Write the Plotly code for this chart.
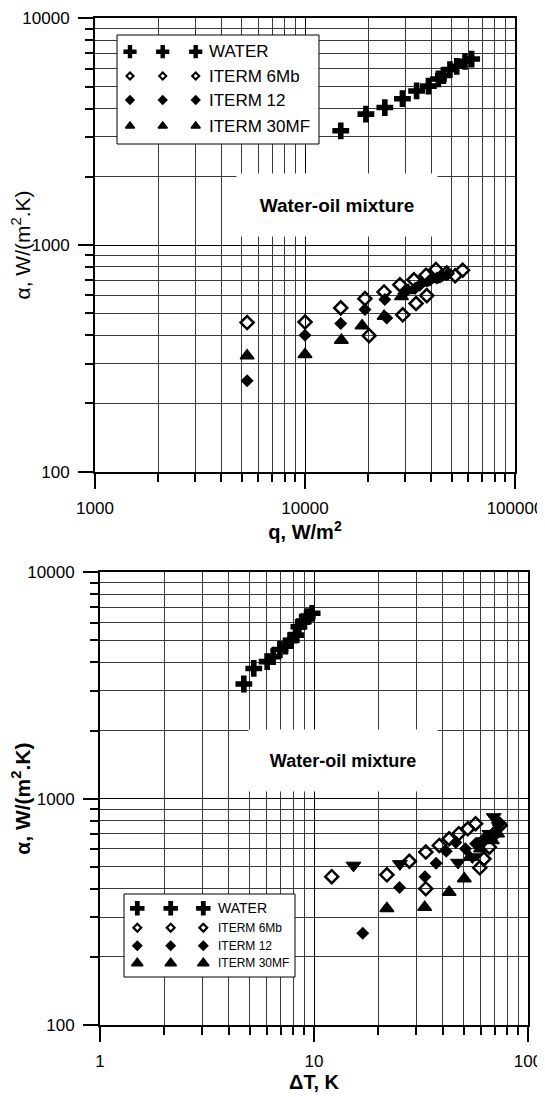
import plotly.graph_objects as go

W, H = 545, 1097
OFF = 8  # page body margin shifts the figure by 8px, compensate for it

# ---- top chart: alpha vs heat flux q ----
q_water = [14800, 19500, 24000, 29100, 34000, 38700, 43200, 45600, 49000, 52800, 57800, 62200]
a_water_top = [3190, 3780, 4040, 4420, 4780, 5020, 5400, 5590, 5940, 6140, 6460, 6610]
q_6mb = [5300, 10000, 14800, 19300, 20200, 23800, 28300, 29200, 33000, 33800, 37700, 38000, 42000, 47300, 51900, 56300]
a_6mb_top = [455, 457, 528, 580, 398, 621, 668, 492, 702, 552, 736, 598, 780, 752, 732, 774]
q_12 = [5300, 10000, 14800, 19300, 24000, 24500, 29500, 33500, 35200, 39400, 42500, 44900, 48000]
a_12_top = [252, 400, 450, 519, 575, 476, 610, 645, 665, 700, 715, 730, 745]
q_30 = [5300, 10000, 14900, 18700, 23800, 28800, 31000, 36000, 41000]
a_30_top = [325, 329, 380, 440, 485, 592, 630, 680, 705]

# ---- bottom chart: alpha vs temperature difference dT ----
dt_water = [4.70, 5.23, 6.04, 6.44, 6.93, 7.36, 7.83, 8.20, 8.50, 8.91, 9.30, 9.80]
a_water_bot = [3210, 3760, 4030, 4240, 4560, 4720, 5010, 5280, 5750, 6050, 6370, 6590]
dt_6mb = [12.1, 21.9, 27.9, 33.3, 33.3, 38.5, 42.8, 47.5, 52.3, 56.9, 59.5, 62.2, 66.0, 70.0, 74.1]
a_6mb_bot = [452, 461, 529, 581, 400, 621, 665, 700, 736, 775, 495, 542, 610, 700, 762]
dt_12 = [16.9, 25.1, 33.0, 37.2, 41.5, 46.0, 51.0, 56.9, 63.4, 70.6, 74.0]
a_12_bot = [254, 405, 452, 518, 585, 640, 600, 632, 676, 724, 780]
dt_30 = [21.9, 32.9, 42.8, 50.4, 53.5, 60.0, 68.1, 72.0]
a_30_bot = [327, 331, 386, 443, 551, 600, 654, 700]
dt_down = [15.3, 25.2, 47.1, 55.0, 62.0, 66.0, 69.2, 73.0]
a_down = [507, 515, 522, 552, 650, 700, 830, 760]

series_names = ["WATER", "ITERM 6Mb", "ITERM 12", "ITERM 30MF"]
x_top_ticks = [1000, 10000, 100000]
x_top_labels = ["1000", "10000", "100000"]
x_bot_ticks = [1, 10, 100]
x_bot_labels = ["1", "10", "100"]
y_ticks = [100, 1000, 10000]
y_labels = ["100", "1000", "10000"]

FONT = "Liberation Sans, Arial, sans-serif"

# marker styles per series
styles = [
    dict(symbol="cross", color="black", line=dict(width=0)),
    dict(symbol="diamond-open", color="black", line=dict(width=2.5, color="black")),
    dict(symbol="diamond", color="black", line=dict(width=0)),
    dict(symbol="triangle-up", color="black", line=dict(width=1.5, color="black")),
]
data_sizes = [14, 10, 10, 12]

fig = go.Figure()

top = [(q_water, a_water_top), (q_6mb, a_6mb_top), (q_12, a_12_top), (q_30, a_30_top)]
bot = [(dt_water, a_water_bot), (dt_6mb, a_6mb_bot), (dt_12, a_12_bot), (dt_30, a_30_bot)]

for i, (x, y) in enumerate(top):
    fig.add_trace(go.Scatter(x=x, y=y, mode="markers", name=series_names[i],
                             marker=dict(size=data_sizes[i], **styles[i]),
                             xaxis="x", yaxis="y"))
for i, (x, y) in enumerate(bot):
    fig.add_trace(go.Scatter(x=x, y=y, mode="markers", name=series_names[i],
                             marker=dict(size=data_sizes[i], **styles[i]),
                             xaxis="x2", yaxis="y2"))
fig.add_trace(go.Scatter(x=dt_down, y=a_down, mode="markers",
                         marker=dict(symbol="triangle-down", size=13, color="black",
                                     line=dict(width=1, color="black")),
                         xaxis="x2", yaxis="y2"))


def axis(domain, anchor, rng, tickvals, ticktext, title, standoff, tsize=20):
    return dict(
        type="log", domain=domain, anchor=anchor, range=rng, automargin=False,
        tickmode="array", tickvals=tickvals, ticktext=ticktext,
        showline=True, linecolor="black", linewidth=2, mirror=True,
        ticks="outside", ticklen=15, tickwidth=2, tickcolor="black",
        ticklabelstandoff=5,
        showgrid=True, gridcolor="black", gridwidth=1.3, zeroline=False,
        tickfont=dict(size=17, family=FONT, color="black"),
        minor=dict(dtick="D1", ticks="outside", ticklen=8, tickwidth=1.5,
                   tickcolor="black", showgrid=True, gridcolor="#3a3a3a", gridwidth=1),
        title=dict(text=title, standoff=standoff, font=dict(size=tsize, family=FONT, color="black")),
        fixedrange=True,
    )


def dx(a, b):
    return [(a - OFF) / W, (b - OFF) / W]


def dy(top_px, bot_px):
    return [1 - (bot_px - OFF) / H, 1 - (top_px - OFF) / H]


fig.update_layout(
    xaxis=axis(dx(95, 515), "y", [3, 5], x_top_ticks, x_top_labels, "<b>q, W/m<sup>2</sup></b>", 5),
    yaxis=axis(dy(18.3, 471.7), "x", [2, 4], y_ticks, y_labels, "α, W/(m<sup>2</sup>.K)", 0, 21),
    xaxis2=axis(dx(100, 528), "y2", [0, 2], x_bot_ticks, x_bot_labels, "<b>ΔT, K</b>", 2),
    yaxis2=axis(dy(572.3, 1025), "x2", [2, 4], y_ticks, y_labels, "<b>α, W/(m<sup>2</sup>.K)</b>", 0, 21),
    # pixel overlay used for legends and labels
    xaxis3=dict(domain=[0, 1], range=[OFF, W + OFF], visible=False, anchor="y3",
                fixedrange=True, automargin=False),
    yaxis3=dict(domain=[0, 1], range=[H + OFF, OFF], visible=False, anchor="x3",
                fixedrange=True, automargin=False),
)

# custom legends: three symbols per entry, like the original software
legends = [
    dict(box=(117, 35, 319, 144), rows=[51.7, 76, 100, 126], xs=[130, 162.7, 195.7], tx=208,
         fs=[17, 17, 17, 17], sizes=[11, 5.5, 8, 8], dline=2),
    dict(box=(124, 894, 295, 977), rows=[908.3, 927.7, 945.7, 963.3], xs=[137.3, 170.7, 203.3], tx=217,
         fs=[14, 12, 12, 12], sizes=[12, 6, 8.5, 10], dline=2.2),
]
shapes = []
annotations = []
for lg in legends:
    x0, y0, x1, y1 = lg["box"]
    shapes.append(dict(type="rect", xref="x3", yref="y3", x0=x0, y0=y0, x1=x1, y1=y1,
                       fillcolor="white", line=dict(color="black", width=1), layer="below"))
    for i, ry in enumerate(lg["rows"]):
        st = dict(styles[i])
        if i == 1:
            st["line"] = dict(width=lg["dline"], color="black")
        fig.add_trace(go.Scatter(x=lg["xs"], y=[ry] * 3, mode="markers",
                                 marker=dict(size=lg["sizes"][i], **st),
                                 xaxis="x3", yaxis="y3", hoverinfo="skip"))
        annotations.append(dict(xref="x3", yref="y3", x=lg["tx"], y=ry, text=series_names[i],
                                showarrow=False, xanchor="left", yanchor="middle", borderpad=0,
                                font=dict(size=lg["fs"][i], family=FONT, color="black")))

# "Water-oil mixture" boxes that break the grid
for cx, cy, w, h, fs in [(336.7, 204.5, 200, 62, 19), (342.5, 760.5, 188, 61, 18)]:
    annotations.append(dict(xref="x3", yref="y3", x=cx, y=cy, text="<b>Water-oil mixture</b>",
                            showarrow=False, width=w, height=h, bgcolor="white", borderpad=0,
                            font=dict(size=fs, family=FONT, color="black")))

fig.update_layout(
    width=W, height=H, margin=dict(l=0, r=0, t=0, b=0),
    paper_bgcolor="white", plot_bgcolor="rgba(0,0,0,0)", showlegend=False,
    font=dict(family=FONT, color="black", size=16),
    shapes=shapes, annotations=annotations,
)

fig.write_html("out.html")
